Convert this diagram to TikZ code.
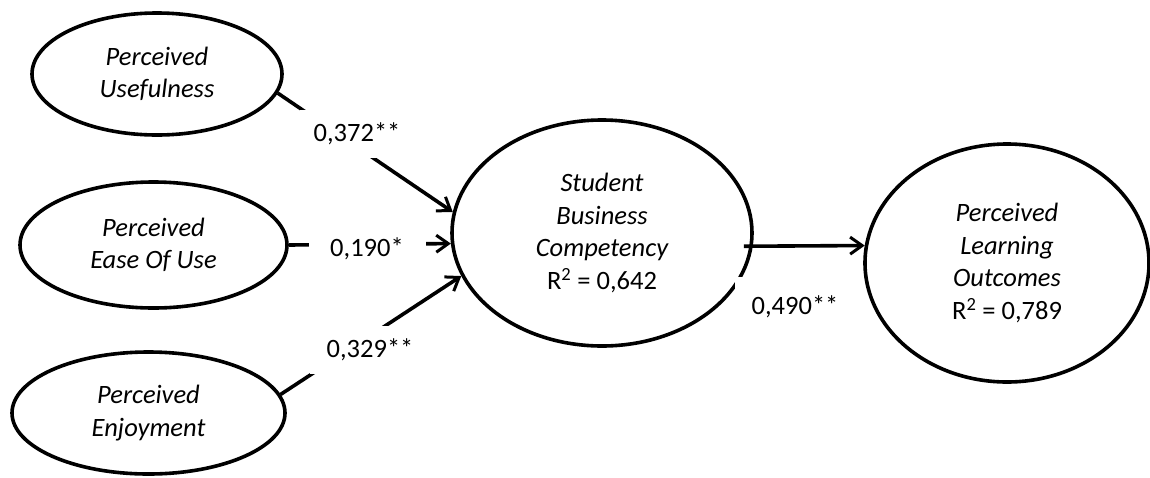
\documentclass[tikz,border=0pt]{standalone}
\usepackage{fontspec}
\setmainfont{Carlito}
\usetikzlibrary{shapes.geometric,arrows.meta}
\begin{document}
\begin{tikzpicture}[x=1pt,y=-1pt,
  lat/.style={draw,ellipse,line width=3.6pt,inner sep=0pt,align=center,
    font=\fontsize{26.5}{32.5}\selectfont\itshape},
  path/.style={line width=3.6pt,-{Straight Barb[length=12pt,width=17pt,line width=3pt]}},
  coef/.style={fill=white,inner sep=0pt,font=\fontsize{26.5}{32.5}\selectfont}]
\useasboundingbox (0,0) rectangle (1150,477);
\node[lat,minimum width=250pt,minimum height=122pt] (PU) at (157,74) {Perceived\\Usefulness};
\node[lat,minimum width=267pt,minimum height=126pt] (PEOU) at (153.5,245) {Perceived\\Ease Of Use};
\node[lat,minimum width=273pt,minimum height=122pt] (PE) at (148.5,413) {Perceived\\Enjoyment};
\node[lat,minimum width=300pt,minimum height=226pt] (SBC) at (602,233) {Student\\Business\\Competency\\{\upshape R\textsuperscript{2} = 0,642}};
\node[lat,minimum width=284pt,minimum height=238pt] (PLO) at (1007,263) {Perceived\\Learning\\Outcomes\\{\upshape R\textsuperscript{2} = 0,789}};
\draw[path] (PU.-9) -- (SBC.172);
\draw[path] (PEOU.0.86) -- (SBC.184);
\draw[path] (PE.8.6) -- (SBC.197.5);
\draw[path,shorten <=-9pt] (SBC.-5.4) -- (PLO.173.5);
\node[coef,minimum width=114pt,minimum height=48pt] (c1) at (357,134) {0,372**};
\node[coef,minimum width=117pt,minimum height=48pt] (c2) at (367,249) {0,190*};
\node[coef,minimum width=120pt,minimum height=48pt] (c3) at (370,350) {0,329**};
\node[coef,minimum width=120pt,minimum height=60pt] (c4) at (795,307) {0,490**};
\end{tikzpicture}
\end{document}
